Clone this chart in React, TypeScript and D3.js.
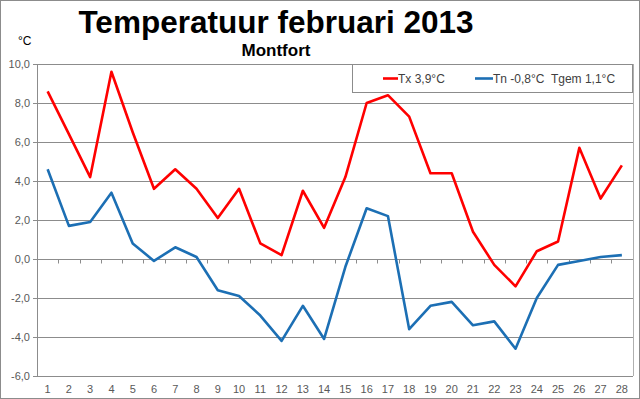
import React, { useRef, useEffect } from "react";
import * as d3 from "d3";

const width = 640;
const height = 399;

const days = [
  "1", "2", "3", "4", "5", "6", "7", "8", "9", "10", "11", "12", "13", "14",
  "15", "16", "17", "18", "19", "20", "21", "22", "23", "24", "25", "26", "27", "28",
];
const tx = [
  8.6, 6.4, 4.2, 9.6, 6.5, 3.6, 4.6, 3.6, 2.1, 3.6, 0.8, 0.2, 3.5, 1.6,
  4.2, 8.0, 8.4, 7.3, 4.4, 4.4, 1.4, -0.3, -1.4, 0.4, 0.9, 5.7, 3.1, 4.8,
];
const tn = [
  4.6, 1.7, 1.9, 3.4, 0.8, -0.1, 0.6, 0.1, -1.6, -1.9, -2.9, -4.2, -2.4, -4.1,
  -0.4, 2.6, 2.2, -3.6, -2.4, -2.2, -3.4, -3.2, -4.6, -2.0, -0.3, -0.1, 0.1, 0.2,
];
const yTicks = [-6, -4, -2, 0, 2, 4, 6, 8, 10];
const seriesNames = ["Tx 3,9°C", "Tn -0,8°C  Tgem 1,1°C"];
const seriesColors = ["#ff0000", "#1c6fb4"];

const margin = { top: 64, right: 7, bottom: 23, left: 37 };
const font = "'Liberation Sans', Arial, sans-serif";

export default function App() {
  const svgRef = useRef<SVGSVGElement>(null);

  useEffect(() => {
    const svg = d3.select(svgRef.current);
    svg.selectAll("*").remove();

    const x = d3
      .scaleBand()
      .domain(days)
      .range([margin.left, width - margin.right - 0.5]);
    const y = d3
      .scaleLinear()
      .domain([-6, 10])
      .range([height - margin.bottom, margin.top]);

    // outer frame
    svg
      .append("rect")
      .attr("x", 0.5)
      .attr("y", 0.5)
      .attr("width", width - 1)
      .attr("height", height - 1)
      .attr("fill", "#fff")
      .attr("stroke", "#8c8c8c");

    // titles
    svg
      .append("text")
      .attr("x", 276)
      .attr("y", 33)
      .attr("text-anchor", "middle")
      .style("font", `bold 31.5px ${font}`)
      .text("Temperatuur februari 2013");
    svg
      .append("text")
      .attr("x", 276)
      .attr("y", 56)
      .attr("text-anchor", "middle")
      .style("font", `bold 17px ${font}`)
      .text("Montfort");
    svg
      .append("text")
      .attr("x", 18)
      .attr("y", 45)
      .style("font", `12px ${font}`)
      .text("°C");

    // gridlines
    svg
      .append("g")
      .selectAll("line")
      .data(yTicks)
      .enter()
      .append("line")
      .attr("x1", margin.left - 4)
      .attr("x2", width - margin.right)
      .attr("y1", (d) => Math.round(y(d)) + 0.5)
      .attr("y2", (d) => Math.round(y(d)) + 0.5)
      .attr("stroke", "#8c8c8c")
      .attr("stroke-width", 1);

    // right plot border
    svg
      .append("line")
      .attr("x1", width - margin.right + 0.5)
      .attr("x2", width - margin.right + 0.5)
      .attr("y1", y(10))
      .attr("y2", y(-6))
      .attr("stroke", "#b0b0b0");

    // y axis line
    svg
      .append("line")
      .attr("x1", margin.left + 0.5)
      .attr("x2", margin.left + 0.5)
      .attr("y1", y(10))
      .attr("y2", y(-6))
      .attr("stroke", "#8c8c8c");

    // y labels
    svg
      .append("g")
      .selectAll("text")
      .data(yTicks)
      .enter()
      .append("text")
      .attr("x", 30)
      .attr("y", (d) => y(d) + 4)
      .attr("text-anchor", "end")
      .attr("fill", "#595959")
      .style("font", `11px ${font}`)
      .text((d) => d3.format(".1f")(d).replace(".", ",").replace("−", "-"));

    // x ticks on the zero line
    const y0 = Math.round(y(0)) + 0.5;
    svg
      .append("g")
      .selectAll("line")
      .data(days.slice(1))
      .enter()
      .append("line")
      .attr("x1", (d) => Math.round(x(d)!) + 0.5)
      .attr("x2", (d) => Math.round(x(d)!) + 0.5)
      .attr("y1", y0)
      .attr("y2", y0 + 4)
      .attr("stroke", "#8c8c8c");

    // x labels
    svg
      .append("g")
      .selectAll("text")
      .data(days)
      .enter()
      .append("text")
      .attr("x", (d) => x(d)! + x.bandwidth() / 2)
      .attr("y", 393)
      .attr("text-anchor", "middle")
      .attr("fill", "#595959")
      .style("font", `11px ${font}`)
      .text((d) => d);

    // lines
    const line = d3
      .line<number>()
      .x((_, i) => x(days[i])! + x.bandwidth() / 2)
      .y((d) => y(d));
    [tx, tn].forEach((s, i) => {
      svg
        .append("path")
        .datum(s)
        .attr("d", line)
        .attr("fill", "none")
        .attr("stroke", seriesColors[i])
        .attr("stroke-width", 2.6)
        .attr("stroke-linejoin", "round");
    });

    // legend
    const lg = svg.append("g");
    lg.append("rect")
      .attr("x", 352.5)
      .attr("y", 64.5)
      .attr("width", 280)
      .attr("height", 28)
      .attr("fill", "#fff")
      .attr("stroke", "#8c8c8c");
    const items = [
      { x1: 383, x2: 398 },
      { x1: 475, x2: 493 },
    ];
    items.forEach((it, i) => {
      lg.append("line")
        .attr("x1", it.x1)
        .attr("x2", it.x2)
        .attr("y1", 78.5)
        .attr("y2", 78.5)
        .attr("stroke", seriesColors[i])
        .attr("stroke-width", 2.6);
      lg.append("text")
        .attr("x", it.x2)
        .attr("y", 83)
        .attr("fill", "#404040")
        .style("font", `12px ${font}`)
        .style("white-space", "pre")
        .text(seriesNames[i]);
    });
  }, []);

  return (
    <svg
      ref={svgRef}
      width={width}
      height={height}
      style={{ position: "absolute", left: 0, top: 0, display: "block" }}
    />
  );
}
